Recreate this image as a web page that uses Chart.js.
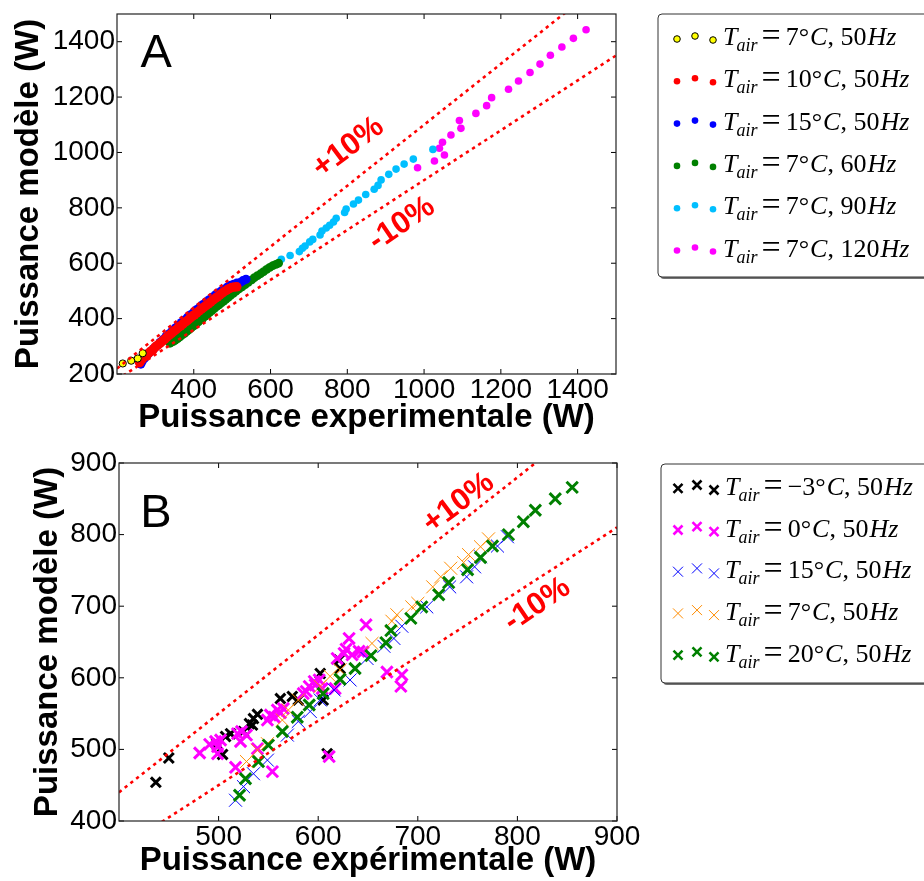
<!DOCTYPE html>
<html>
<head>
<meta charset="utf-8">
<script src="https://cdn.jsdelivr.net/npm/chart.js@4.4.0/dist/chart.umd.min.js"></script>
<style>
  body { margin: 0; background: #fff; }
  canvas { position: absolute; left: 0; }
  #chartA { top: 0; }
  #chartB { top: 440px; }
</style>
</head>
<body>
<canvas id="chartA" width="924" height="440"></canvas>
<canvas id="chartB" width="924" height="441"></canvas>
<script>
// ---- Panel A : [puissance experimentale, puissance modele] (W)
const A_YELLOW = [[215,238],[237,248],[254,256],[267,275]];
const A_RED = [[259,241],[262,250],[266,255],[271,262],[277,268],[283,276],[289,283],[295,290],[300,298],[306,304],
  [312,311],[318,318],[324,325],[330,333],[336,340],[342,347],[348,354],[354,360],[360,368],[366,374],
  [372,381],[378,388],[384,394],[390,401],[396,408],[402,414],[408,421],[414,428],[420,434],[426,441],
  [432,447],[438,453],[444,460],[450,467],[456,473],[462,479],[468,486],[474,492],[480,498],[486,503],
  [492,508],[498,512],[505,514],[512,515]];
const A_BLUE = [[262,236],[266,247],[272,258],[280,270],[288,281],[296,292],[304,302],[312,314],[320,324],[328,335],
  [336,345],[344,356],[352,366],[360,376],[368,386],[376,395],[384,405],[392,414],[400,423],[408,433],
  [416,442],[424,451],[432,460],[440,468],[448,477],[456,485],[464,493],[472,500],[480,507],[488,514],
  [496,520],[504,524],[512,528],[521,530],[528,537],[536,542]];
const A_GREEN = [[338,311],[342,315],[347,318],[352,322],[358,328],[364,334],[370,341],[376,347],[382,354],[388,360],
  [394,367],[400,374],[406,381],[412,388],[418,395],[424,402],[430,409],[436,416],[442,423],[448,430],
  [454,437],[460,444],[466,450],[472,457],[478,463],[484,470],[490,477],[496,484],[503,491],[510,499],
  [518,507],[526,515],[534,523],[542,531],[551,540],[558,548],[566,555],[574,562],[582,570],[590,578],
  [598,585],[606,591],[614,596],[621,600]];
const A_CYAN = [[628,614],[651,628],[675,642],[683,654],[690,662],[702,677],[710,686],[729,702],[734,716],[745,727],
  [754,737],[764,749],[771,762],[793,783],[797,796],[816,814],[829,828],[848,848],[870,867],[880,881],
  [888,901],[908,921],[927,940],[948,958],[972,976],[1023,1011]];
const A_MAGENTA = [[983,945],[1027,969],[1040,1015],[1048,1037],[1053,991],[1070,1063],[1092,1115],[1096,1087],
  [1135,1141],[1163,1169],[1176,1198],[1220,1228],[1246,1258],[1276,1289],[1302,1319],[1329,1351],
  [1359,1381],[1389,1412],[1422,1443]];
const A_PLUS10 = [[200,220],[1500,1650]];
const A_MINUS10 = [[200,180],[1500,1350]];
const A_TEMPS = ['7', '10', '15', '7', '7', '7'];
const A_FREQS = ['50', '50', '50', '60', '90', '120'];
const A_X_TICKS = [400, 600, 800, 1000, 1200, 1400];
const A_Y_TICKS = [200, 400, 600, 800, 1000, 1200, 1400];

// ---- Panel B
const B_BLACK = [[437,454],[450,488],[498,508],[504,493],[507,518],[512,522],[525,525],[531,536],[534,534],[535,543],
  [539,549],[562,571],[574,574],[580,569],[602,606],[605,569],[609,494],[621,625],[622,613]];
const B_MAGENTA = [[481,495],[491,507],[497,511],[499,504],[502,513],[499,494],[517,475],[519,522],[523,525],[528,520],
  [522,511],[539,501],[554,469],[549,541],[552,548],[556,545],[559,555],[562,551],[565,557],[585,578],
  [588,581],[591,588],[596,595],[597,590],[601,597],[604,585],[617,585],[619,627],[626,634],[628,640],
  [631,655],[634,632],[641,637],[645,636],[648,674],[669,608],[683,588],[684,604],[611,490]];
const B_BLUE = [[790,797],[780,784],[763,769],[757,755],[749,741],[732,727],[709,699],[684,672],[676,655],[666,644],
  [649,627],[632,597],[616,583],[602,569],[592,553],[580,539],[569,520],[549,485],[535,466],[525,448],[517,429]];
const B_ORANGE = [[771,794],[763,783],[751,772],[746,761],[733,753],[723,741],[715,727],[700,704],[694,699],[679,688],
  [674,679],[654,648],[622,611],[612,602],[602,588],[580,569],[570,555],[564,541],[549,508],[539,499],[528,483]];
const B_GREEN = [[855,866],[838,850],[818,834],[806,818],[791,800],[775,784],[763,768],[750,751],[731,733],[721,716],
  [704,699],[693,683],[673,666],[668,649],[653,631],[637,613],[622,598],[605,578],[591,562],[579,545],
  [564,525],[550,506],[540,483],[527,459],[521,436]];
const B_PLUS10 = [[400,440],[900,990]];
const B_MINUS10 = [[400,360],[900,810]];
const B_TEMPS = ['\u22123', '0', '15', '7', '20'];
const B_FREQS = ['50', '50', '50', '50', '50'];
const B_X_TICKS = [500, 600, 700, 800, 900];
const B_Y_TICKS = [400, 500, 600, 700, 800, 900];

const SANS = "'Liberation Sans', Arial, sans-serif";
const SERIF = "'Liberation Serif', 'Times New Roman', serif";
Chart.defaults.font.family = SANS;
Chart.defaults.color = '#000';

const xy = pairs => pairs.map(p => ({ x: p[0], y: p[1] }));

function dots(data, color, r, order, edge) {
  return { data: xy(data), backgroundColor: color, borderColor: edge || color, borderWidth: edge ? 1 : 0,
    pointRadius: r, pointStyle: 'circle', order: order };
}
function crosses(data, color, r, w, order) {
  return { data: xy(data), backgroundColor: color, borderColor: color, borderWidth: w,
    pointRadius: r, pointStyle: 'crossRot', order: order };
}
function guide(data) {
  return { data: xy(data), showLine: true, borderColor: '#ff0000', borderWidth: 2.6, borderDash: [3.3, 4],
    pointRadius: 0, order: 0 };
}

function axes(xMin, xMax, xTicks, yMin, yMax, yTicks, xTitle, yW, xH, yPad, xPad) {
  const tickOpts = { font: { size: 28, lineHeight: 1 }, color: '#000', padding: 2, autoSkip: false, maxRotation: 0,
    callback: v => String(v) };
  return {
    x: {
      type: 'linear', min: xMin, max: xMax,
      afterBuildTicks: s => { s.ticks = xTicks.map(v => ({ value: v })); },
      afterFit: s => { s.height = xH; s.paddingLeft = 0; s.paddingRight = 0; },
      ticks: tickOpts,
      grid: { display: false, drawTicks: false },
      border: { display: false },
      title: { display: true, text: xTitle, font: { size: 33, weight: 'bold' }, padding: { top: 0, bottom: xPad } }
    },
    y: {
      type: 'linear', min: yMin, max: yMax,
      afterBuildTicks: s => { s.ticks = yTicks.map(v => ({ value: v })); },
      afterFit: s => { s.width = yW; s.paddingTop = 0; s.paddingBottom = 0; },
      ticks: tickOpts,
      grid: { display: false, drawTicks: false },
      border: { display: false },
      title: { display: true, text: 'Puissance modèle (W)', font: { size: 33, weight: 'bold' }, padding: { top: yPad, bottom: 0 } }
    }
  };
}

// T_air = ..°C, ..Hz in a math-like style
function mathLabel(ctx, x, y, temp, freq) {
  let cx = x;
  ctx.fillStyle = '#000';
  ctx.textAlign = 'left';
  ctx.textBaseline = 'alphabetic';
  ctx.font = 'italic 26px ' + SERIF;
  ctx.fillText('T', cx, y);
  cx += ctx.measureText('T').width - 1;
  ctx.font = 'italic 18px ' + SERIF;
  ctx.fillText('air', cx, y + 6);
  cx += ctx.measureText('air').width + 4;
  ctx.font = '34px ' + SERIF;
  ctx.fillText('=', cx, y + 1);
  cx += ctx.measureText('=').width + 5;
  ctx.font = '26px ' + SERIF;
  ctx.fillText(temp + '°', cx, y);
  cx += ctx.measureText(temp + '°').width + 1;
  ctx.font = 'italic 26px ' + SERIF;
  ctx.fillText('C', cx, y);
  cx += ctx.measureText('C').width;
  ctx.font = '26px ' + SERIF;
  ctx.fillText(', ' + freq, cx, y);
  cx += ctx.measureText(', ' + freq).width + 1;
  ctx.font = 'italic 26px ' + SERIF;
  ctx.fillText('Hz', cx, y);
}

function legendMarker(ctx, m, x, y) {
  ctx.save();
  if (m.kind === 'dot') {
    ctx.beginPath();
    ctx.arc(x, y, m.r, 0, Math.PI * 2);
    ctx.fillStyle = m.color;
    ctx.fill();
    if (m.edge) { ctx.strokeStyle = m.edge; ctx.lineWidth = 1; ctx.stroke(); }
  } else {
    ctx.strokeStyle = m.color;
    ctx.lineWidth = m.w;
    ctx.beginPath();
    ctx.moveTo(x - m.r, y - m.r); ctx.lineTo(x + m.r, y + m.r);
    ctx.moveTo(x + m.r, y - m.r); ctx.lineTo(x - m.r, y + m.r);
    ctx.stroke();
  }
  ctx.restore();
}

const decor = {
  id: 'decor',
  afterDatasetsDraw(chart, args, o) {
    const { ctx, chartArea: ca, scales: { x, y } } = chart;
    ctx.save();
    ctx.strokeStyle = '#000';
    ctx.lineWidth = 1;
    ctx.beginPath();
    for (const t of x.ticks) {
      const p = x.getPixelForValue(t.value);
      ctx.moveTo(p, ca.bottom); ctx.lineTo(p, ca.bottom - 5);
      ctx.moveTo(p, ca.top); ctx.lineTo(p, ca.top + 5);
    }
    for (const t of y.ticks) {
      const p = y.getPixelForValue(t.value);
      ctx.moveTo(ca.left, p); ctx.lineTo(ca.left + 5, p);
      ctx.moveTo(ca.right, p); ctx.lineTo(ca.right - 5, p);
    }
    ctx.stroke();
    ctx.strokeStyle = '#222';
    ctx.lineWidth = 1.2;
    ctx.strokeRect(ca.left, ca.top, ca.right - ca.left, ca.bottom - ca.top);

    for (const n of o.notes) {
      ctx.save();
      ctx.translate(x.getPixelForValue(n.at[0]), y.getPixelForValue(n.at[1]));
      ctx.rotate(n.angle * Math.PI / 180);
      ctx.font = n.font;
      ctx.fillStyle = n.color;
      ctx.textAlign = 'center';
      ctx.textBaseline = 'middle';
      ctx.fillText(n.text, 0, 0);
      ctx.restore();
    }
    ctx.restore();
  },
  afterDraw(chart, args, o) {
    const { ctx } = chart;
    const L = o.legend;
    const [bx, by, bw, bh] = L.box;
    ctx.save();
    ctx.fillStyle = 'rgba(0,0,0,0.55)';
    ctx.beginPath(); ctx.roundRect(bx + 2, by + 2, bw, bh, 4); ctx.fill();
    ctx.fillStyle = '#fff';
    ctx.beginPath(); ctx.roundRect(bx, by, bw, bh, 4); ctx.fill();
    ctx.strokeStyle = '#333';
    ctx.lineWidth = 1;
    ctx.stroke();
    L.items.forEach((it, i) => {
      const ry = L.row0 + i * L.pitch;
      L.mx.forEach((mx, k) => legendMarker(ctx, it.marker, mx, ry + L.dy[k]));
      mathLabel(ctx, L.textX, ry + L.baseOff, it.temp, it.freq);
    });
    ctx.restore();
  }
};

// ---------- Chart A
const aColors = [
  { kind: 'dot', color: '#ffff00', edge: '#000', r: 3.3 },
  { kind: 'dot', color: '#ff0000', r: 3.3 },
  { kind: 'dot', color: '#0000ff', r: 3.3 },
  { kind: 'dot', color: '#008000', r: 3.3 },
  { kind: 'dot', color: '#00bfff', r: 3.3 },
  { kind: 'dot', color: '#ff00ff', r: 3.3 }
];

new Chart(document.getElementById('chartA'), {
  type: 'scatter',
  data: {
    datasets: [
      guide(A_PLUS10), guide(A_MINUS10),
      dots(A_YELLOW, '#ffff00', 3.6, 1, '#000'),
      dots(A_RED, '#ff0000', 4.8, 2),
      dots(A_BLUE, '#0000ff', 4.6, 3),
      dots(A_GREEN, '#008000', 4.4, 4),
      dots(A_CYAN, '#00bfff', 3.8, 5),
      dots(A_MAGENTA, '#ff00ff', 3.8, 6)
    ]
  },
  options: {
    responsive: false, animation: false, events: [],
    layout: { padding: { left: 0, top: 14, right: 308, bottom: 0 } },
    plugins: {
      legend: { display: false }, tooltip: { enabled: false },
      decor: {
        notes: [
          { text: 'A', at: [302, 1357], angle: 0, font: '47px ' + SANS, color: '#000' },
          { text: '+10%', at: [803, 1018], angle: -37, font: 'bold 31px ' + SANS, color: '#ff0000' },
          { text: '-10%', at: [942, 742], angle: -34, font: 'bold 31px ' + SANS, color: '#ff0000' }
        ],
        legend: {
          box: [658, 14, 280, 263], row0: 39, pitch: 42.3, baseOff: 6,
          mx: [677, 695, 713], dy: [0, -3, 1], textX: 723,
          items: A_TEMPS.map((t, i) => ({ temp: t, freq: A_FREQS[i], marker: aColors[i] }))
        }
      }
    },
    scales: axes(200, 1500, A_X_TICKS, 200, 1500, A_Y_TICKS, 'Puissance experimentale (W)', 117, 66, 9, 2)
  },
  plugins: [decor]
});

// ---------- Chart B
const bColors = [
  { kind: 'x', color: '#000000', r: 4.5, w: 2.6 },
  { kind: 'x', color: '#ff00ff', r: 4.5, w: 2.6 },
  { kind: 'x', color: '#0000ff', r: 5, w: 1 },
  { kind: 'x', color: '#ff8c00', r: 5, w: 1 },
  { kind: 'x', color: '#008000', r: 4.5, w: 2.6 }
];

new Chart(document.getElementById('chartB'), {
  type: 'scatter',
  data: {
    datasets: [
      guide(B_PLUS10), guide(B_MINUS10),
      crosses(B_GREEN, '#008000', 8, 3, 1),
      crosses(B_ORANGE, '#ff8c00', 9.2, 1, 2),
      crosses(B_BLUE, '#0000ff', 9.2, 1, 3),
      crosses(B_MAGENTA, '#ff00ff', 8, 3, 4),
      crosses(B_BLACK, '#000000', 7, 3, 5)
    ]
  },
  options: {
    responsive: false, animation: false, events: [],
    layout: { padding: { left: 0, top: 23, right: 307, bottom: 0 } },
    plugins: {
      legend: { display: false }, tooltip: { enabled: false },
      decor: {
        notes: [
          { text: 'B', at: [437, 829], angle: 0, font: '47px ' + SANS, color: '#000' },
          { text: '+10%', at: [741, 844], angle: -37, font: 'bold 31px ' + SANS, color: '#ff0000' },
          { text: '-10%', at: [820, 702], angle: -34, font: 'bold 31px ' + SANS, color: '#ff0000' }
        ],
        legend: {
          box: [661, 24, 280, 219], row0: 48.3, pitch: 41.7, baseOff: 6.7,
          mx: [678, 697, 714], dy: [0, -3.3, 1.7], textX: 725,
          items: B_TEMPS.map((t, i) => ({ temp: t, freq: B_FREQS[i], marker: bColors[i] }))
        }
      }
    },
    scales: axes(400, 900, B_X_TICKS, 400, 900, B_Y_TICKS, 'Puissance expérimentale (W)', 119, 60, 28, 0)
  },
  plugins: [decor]
});
</script>
</body>
</html>
